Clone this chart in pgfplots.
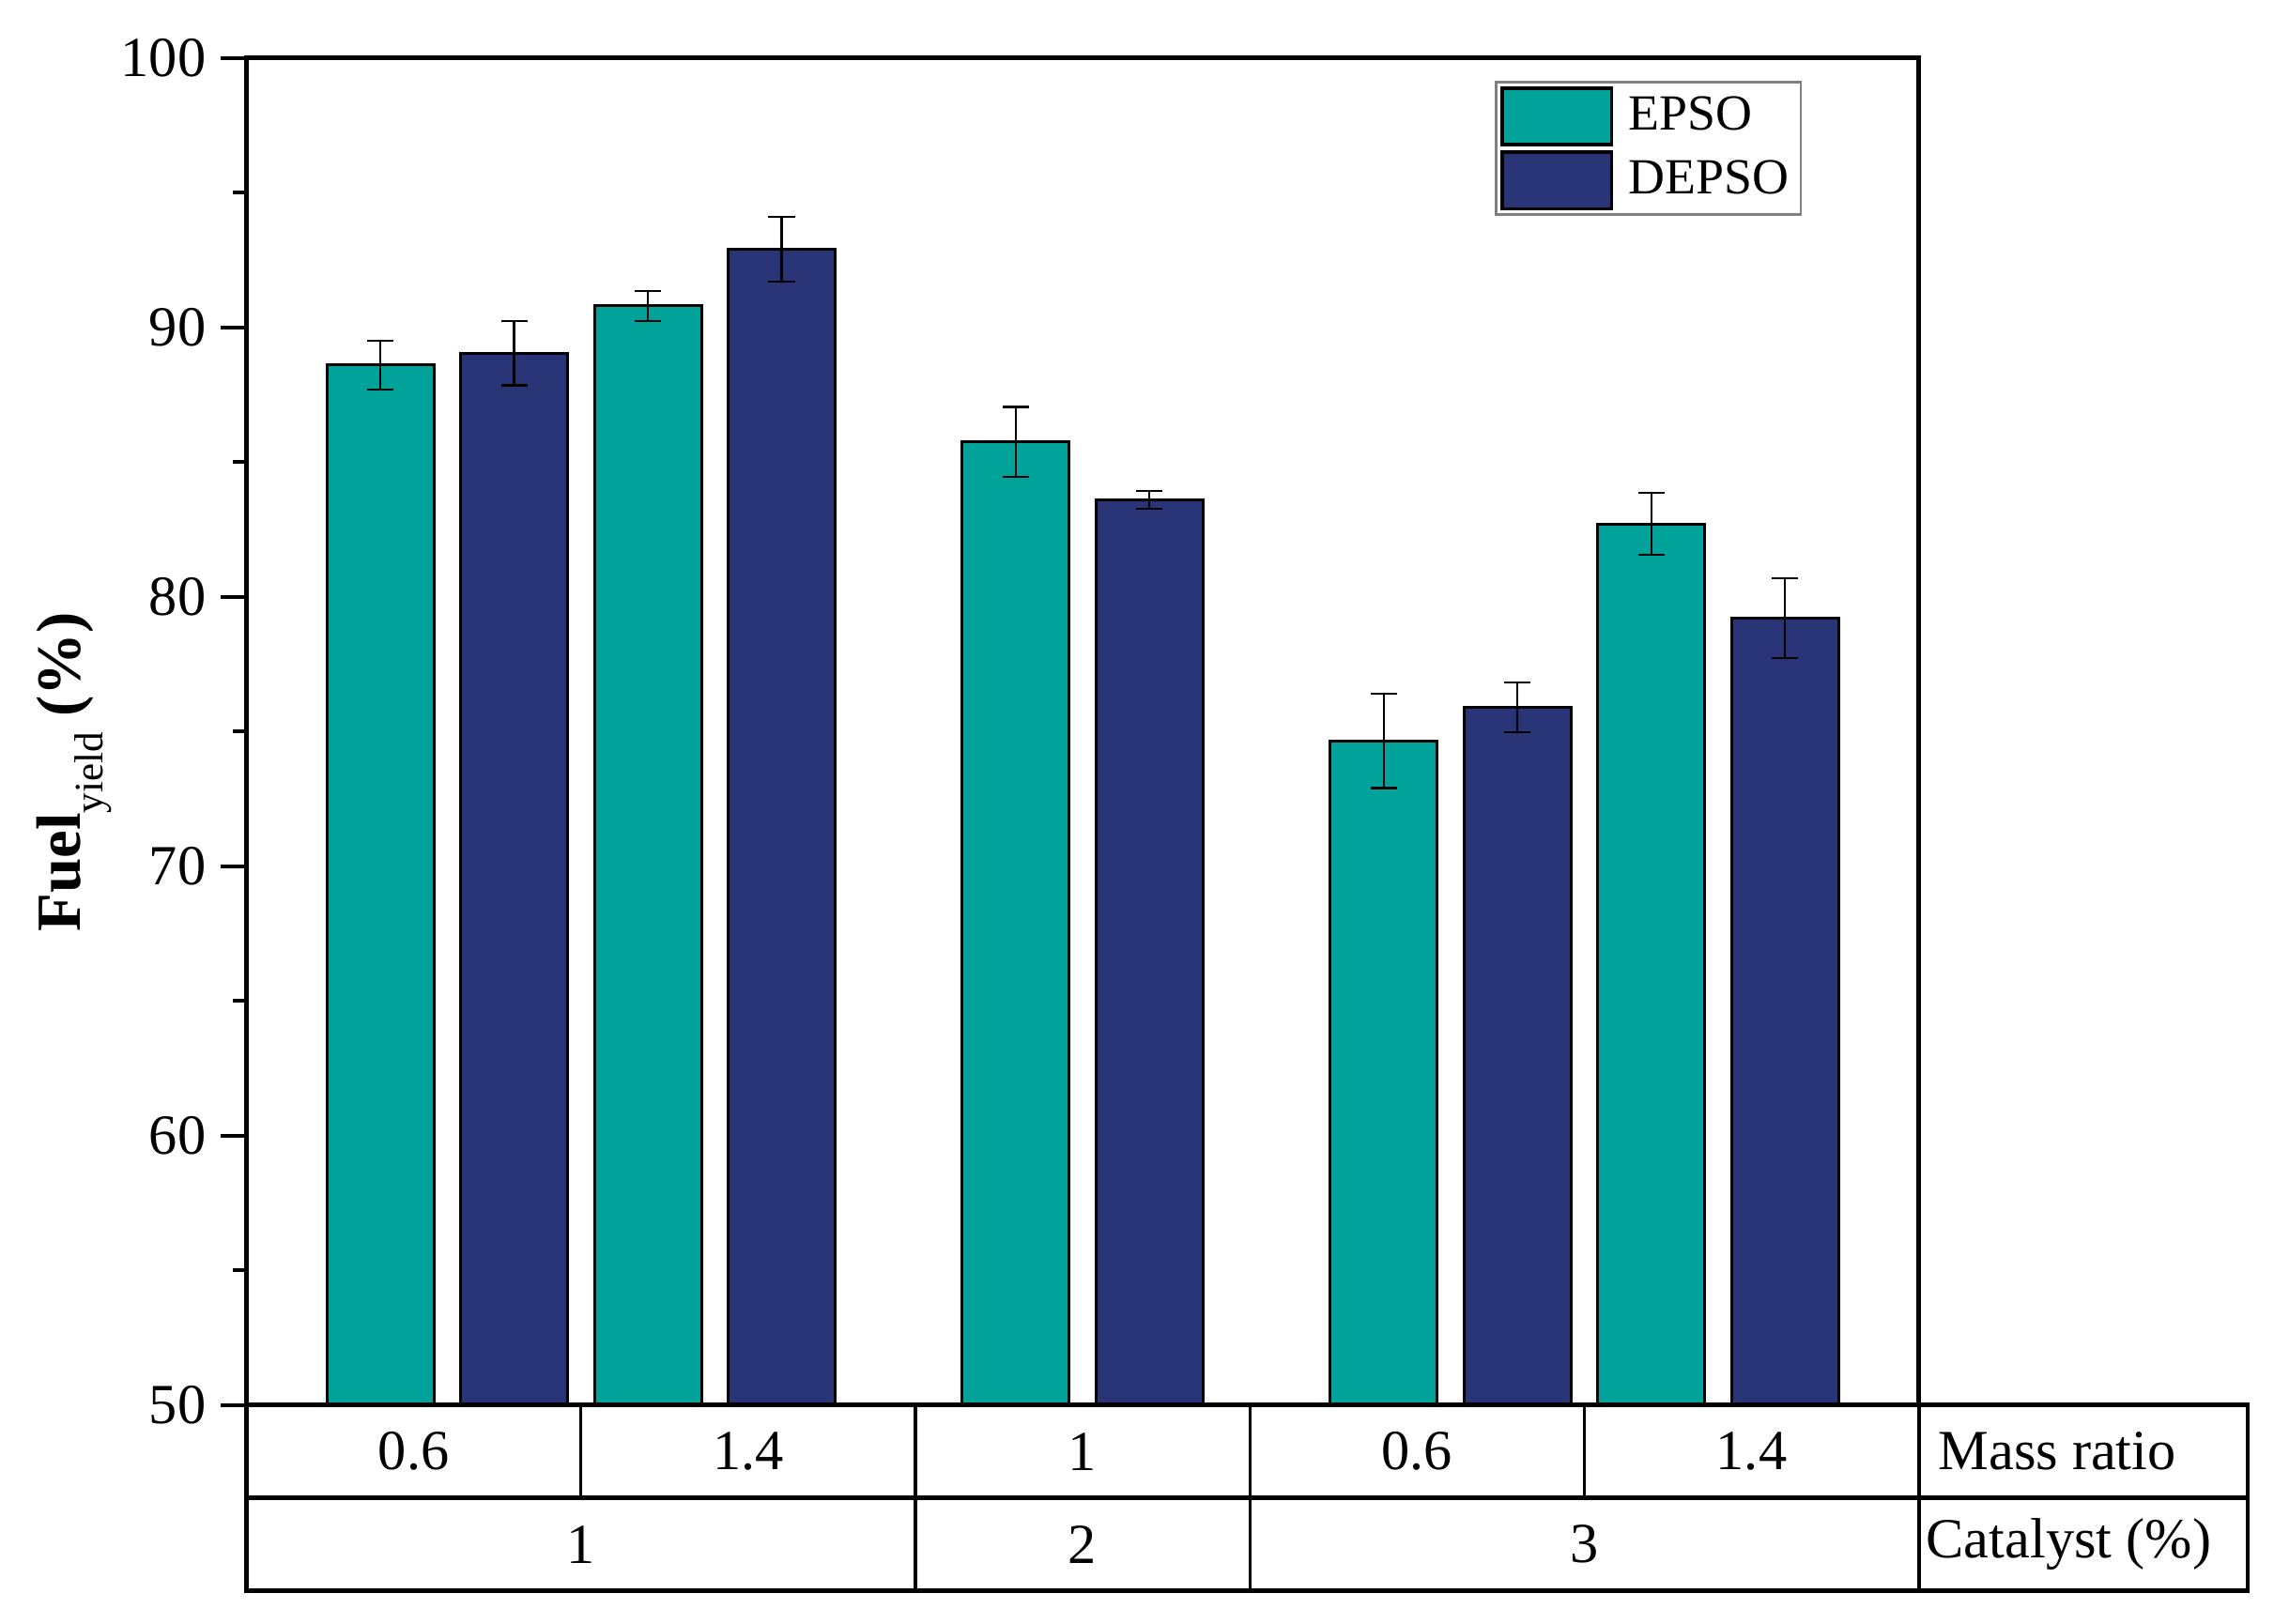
\documentclass[border=0pt]{standalone}
\usepackage{fontspec}
\setmainfont{Liberation Serif}
\usepackage{pgfplots}
\pgfplotsset{compat=1.18}
\definecolor{epso}{RGB}{0,162,154}
\definecolor{depso}{RGB}{41,52,118}
\begin{document}
\begin{tikzpicture}
\path[use as bounding box] (-60.89pt,-54.08pt) rectangle (500.71pt,347.06pt);
\begin{axis}[
  at={(0,0)}, anchor=south west,
  width=412.96pt, height=332.73pt, scale only axis,
  xmin=0, xmax=12.5, ymin=50, ymax=100,
  xtick=\empty,
  ytick={50,60,...,100},
  minor y tick num=1,
  ytick pos=left,
  tick align=outside,
  major tick length=6.5pt, minor tick length=3.5pt,
  every tick/.style={line width=1pt, black},
  axis line style={line width=1.1pt},
  clip mode=individual,
  /pgf/number format/assume math mode=true,
  yticklabel style={font=\fontsize{14}{16}\selectfont},
  ylabel={\textbf{Fuel}\raisebox{-5.5pt}{\fontsize{10}{12}\selectfont yield}\textbf{ (\%)}},
  ylabel style={at={(axis description cs:-0.103,0.47)}, anchor=center, font=\fontsize{15.5}{18}\selectfont},
  legend style={at={(0.7467,0.9828)}, anchor=north west, draw=gray, line width=0.6pt,
    inner sep=1pt, row sep=1pt, nodes={inner sep=2pt},
    /tikz/every odd column/.append style={column sep=1.8pt},
    /tikz/every even column/.append style={column sep=2pt},
    font=\fontsize{12.5}{14}\selectfont, legend cell align=left},
  legend image code/.code={\draw[#1, line width=0.8pt] (0pt,-7pt) rectangle (27pt,7pt);},
]
\addplot[ybar, bar width=0.8, bar shift=0pt, fill=epso, draw=black, line width=0.7pt,
  error bars/.cd, y dir=both, y explicit,
  error bar style={line width=0.5pt, black},
  error mark options={rotate=90, mark size=3.25pt, line width=0.5pt, black}]
  table[x=x, y=y, y error=e] {
x y e
1 88.6 0.9
3 90.8 0.55
5.75 85.75 1.3
8.5 74.65 1.75
10.5 82.7 1.15
};
\addlegendentry{EPSO}
\addplot[ybar, bar width=0.8, bar shift=0pt, fill=depso, draw=black, line width=0.7pt,
  error bars/.cd, y dir=both, y explicit,
  error bar style={line width=0.5pt, black},
  error mark options={rotate=90, mark size=3.25pt, line width=0.5pt, black}]
  table[x=x, y=y, y error=e] {
x y e
2 89.05 1.2
4 92.9 1.2
6.75 83.6 0.32
9.5 75.9 0.92
11.5 79.2 1.48
};
\addlegendentry{DEPSO}
% table below the axis
\draw[line width=0.7pt] (axis cs:2.5,50) -- (axis cs:2.5,46.556);
\draw[line width=0.7pt] (axis cs:5,50) -- (axis cs:5,43.112);
\draw[line width=0.7pt] (axis cs:7.5,50) -- (axis cs:7.5,43.112);
\draw[line width=0.7pt] (axis cs:10,50) -- (axis cs:10,46.556);
\draw[line width=0.9pt] (axis cs:12.5,50) -- (axis cs:12.5,43.112);
\draw[line width=1.1pt] (axis cs:0,46.556) -- (axis cs:14.96,46.556);
\draw[line width=1.1pt] (axis cs:0,50) rectangle (axis cs:14.96,43.112);
\begin{scope}[every node/.style={font=\fontsize{14}{16}\selectfont}]
\node at (axis cs:1.25,48.28) {0.6};
\node at (axis cs:3.75,48.28) {1.4};
\node at (axis cs:6.25,48.28) {1};
\node at (axis cs:8.75,48.28) {0.6};
\node at (axis cs:11.25,48.28) {1.4};
\node[anchor=west] at (axis cs:12.54,48.28) {Mass ratio};
\node at (axis cs:2.5,44.83) {1};
\node at (axis cs:6.25,44.83) {2};
\node at (axis cs:10,44.83) {3};
\node[anchor=west] at (axis cs:12.45,44.83) {Catalyst (\%)};
\end{scope}
\end{axis}
\end{tikzpicture}
\end{document}
